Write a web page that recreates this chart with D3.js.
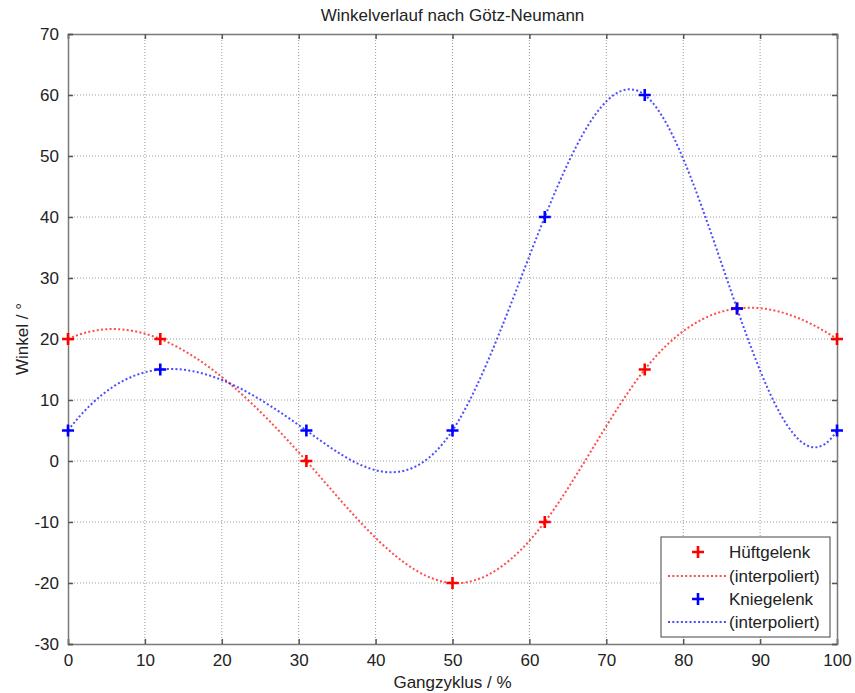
<!DOCTYPE html>
<html>
<head>
<meta charset="utf-8">
<script src="https://cdn.jsdelivr.net/npm/d3@7"></script>
<style>
  html, body { margin: 0; padding: 0; background: #fff; }
  svg text { font-family: "Liberation Sans", Arial, sans-serif; fill: #222; }
</style>
</head>
<body>
<svg id="chart" width="855" height="693"></svg>
<script>
// ---- data ----
const gaitPercent = [0, 12, 31, 50, 62, 75, 87, 100];
const hipAngle    = [20, 20, 0, -20, -10, 15, 25, 20];
const kneeAngle   = [5, 15, 5, 5, 40, 60, 25, 5];
const xTicks = [0, 10, 20, 30, 40, 50, 60, 70, 80, 90, 100];
const yTicks = [-30, -20, -10, 0, 10, 20, 30, 40, 50, 60, 70];
const seriesNames = ["Hüftgelenk", "(interpoliert)", "Kniegelenk", "(interpoliert)"];
const titleText = "Winkelverlauf nach Götz-Neumann";
const xLabel = "Gangzyklus / %";
const yLabel = "Winkel / °";

// ---- custom d3 curve: not-a-knot cubic spline y(x), emitted as Bezier segments ----
function NotAKnot(context) { this._context = context; }
NotAKnot.prototype = {
  areaStart() { this._line = 0; },
  areaEnd() { this._line = NaN; },
  lineStart() { this._x = []; this._y = []; },
  point(px, py) { this._x.push(+px); this._y.push(+py); },
  lineEnd() {
    const X = this._x, Y = this._y, n = X.length, c = this._context;
    if (!n) return;
    c.moveTo(X[0], Y[0]);
    if (n < 4) { for (let i = 1; i < n; i++) c.lineTo(X[i], Y[i]); return; }
    const h = [], d = [];
    for (let i = 0; i < n - 1; i++) { h.push(X[i + 1] - X[i]); d.push((Y[i + 1] - Y[i]) / h[i]); }
    const A = Array.from({length: n}, () => new Array(n).fill(0));
    const b = new Array(n).fill(0);
    A[0][0] = h[1]; A[0][1] = -(h[0] + h[1]); A[0][2] = h[0];
    for (let i = 1; i < n - 1; i++) {
      A[i][i - 1] = h[i - 1]; A[i][i] = 2 * (h[i - 1] + h[i]); A[i][i + 1] = h[i];
      b[i] = 6 * (d[i] - d[i - 1]);
    }
    A[n - 1][n - 3] = h[n - 2]; A[n - 1][n - 2] = -(h[n - 3] + h[n - 2]); A[n - 1][n - 1] = h[n - 3];
    for (let k = 0; k < n; k++) {
      let p = k;
      for (let r = k + 1; r < n; r++) if (Math.abs(A[r][k]) > Math.abs(A[p][k])) p = r;
      [A[k], A[p]] = [A[p], A[k]]; [b[k], b[p]] = [b[p], b[k]];
      for (let r = k + 1; r < n; r++) {
        const f = A[r][k] / A[k][k];
        for (let cc = k; cc < n; cc++) A[r][cc] -= f * A[k][cc];
        b[r] -= f * b[k];
      }
    }
    const M = new Array(n).fill(0);
    for (let k = n - 1; k >= 0; k--) {
      let s = b[k];
      for (let cc = k + 1; cc < n; cc++) s -= A[k][cc] * M[cc];
      M[k] = s / A[k][k];
    }
    const m = [];
    for (let i = 0; i < n - 1; i++) m.push(d[i] - h[i] * (2 * M[i] + M[i + 1]) / 6);
    m.push(d[n - 2] + h[n - 2] * (M[n - 2] + 2 * M[n - 1]) / 6);
    for (let i = 0; i < n - 1; i++) {
      const t = h[i] / 3;
      c.bezierCurveTo(X[i] + t, Y[i] + t * m[i], X[i + 1] - t, Y[i + 1] - t * m[i + 1], X[i + 1], Y[i + 1]);
    }
  }
};
const curveNotAKnot = ctx => new NotAKnot(ctx);

// ---- layout ----
const W = 855, H = 693;
const margin = {left: 68, top: 34, right: 18, bottom: 49};
const svg = d3.select("#chart");
const iw = W - margin.left - margin.right;
const ih = H - margin.top - margin.bottom;

const x = d3.scaleLinear().domain([0, 100]).range([margin.left, margin.left + iw]);
const y = d3.scaleLinear().domain([-30, 70]).range([margin.top + ih, margin.top]);

const axisColor = "#7a7a7a";
const gridColor = "#9a9a9a";

// grid
const grid = svg.append("g");
grid.selectAll(".gx").data(xTicks.slice(1, -1)).join("line")
  .attr("x1", d => x(d)).attr("x2", d => x(d))
  .attr("y1", y(-30)).attr("y2", y(70))
  .attr("stroke", gridColor).attr("stroke-width", 1).attr("stroke-dasharray", "1,2");
grid.selectAll(".gy").data(yTicks.slice(1, -1)).join("line")
  .attr("y1", d => y(d)).attr("y2", d => y(d))
  .attr("x1", x(0)).attr("x2", x(100))
  .attr("stroke", gridColor).attr("stroke-width", 1).attr("stroke-dasharray", "1,2");

// axes (ticks inward)
const tickLen = 5;
const fmt = d => String(d);
const xAxisB = d3.axisBottom(x).tickValues(xTicks).tickSize(-tickLen).tickPadding(tickLen + 5).tickFormat(fmt);
const xAxisT = d3.axisTop(x).tickValues(xTicks).tickSize(-tickLen).tickFormat("");
const yAxisL = d3.axisLeft(y).tickValues(yTicks).tickSize(-tickLen).tickPadding(tickLen + 4).tickFormat(fmt);
const yAxisR = d3.axisRight(y).tickValues(yTicks).tickSize(-tickLen).tickFormat("");

function styleAxis(g) {
  g.select(".domain").attr("stroke", axisColor).attr("stroke-width", 1.5);
  g.selectAll(".tick line").attr("stroke", "#555").attr("stroke-width", 1.5);
  g.selectAll(".tick text").style("font-size", "17px").style("font-family", "'Liberation Sans', Arial, sans-serif").attr("fill", "#222");
}
svg.append("g").attr("transform", `translate(0,${y(-30)})`).call(xAxisB).call(styleAxis);
svg.append("g").attr("transform", `translate(0,${y(70)})`).call(xAxisT).call(styleAxis);
svg.append("g").attr("transform", `translate(${x(0)},0)`).call(yAxisL).call(styleAxis);
svg.append("g").attr("transform", `translate(${x(100)},0)`).call(yAxisR).call(styleAxis);

// curves
const line = d3.line().x(d => x(d[0])).y(d => y(d[1])).curve(curveNotAKnot);
const series = [
  {vals: hipAngle, color: "#ff0000"},
  {vals: kneeAngle, color: "#0000ff"}
];
series.forEach(s => {
  const pts = gaitPercent.map((g, i) => [g, s.vals[i]]);
  svg.append("path").datum(pts).attr("d", line)
    .attr("fill", "none").attr("stroke", s.color).attr("stroke-opacity", 0.7)
    .attr("stroke-width", 2).attr("stroke-dasharray", "2,2.3");
});
// markers
function plus(g, cx, cy, color) {
  const r = 6;
  g.append("path").attr("d", `M${cx - r},${cy}H${cx + r}M${cx},${cy - r}V${cy + r}`)
    .attr("stroke", color).attr("stroke-width", 2.6).attr("fill", "none");
}
series.forEach(s => {
  const g = svg.append("g");
  gaitPercent.forEach((gp, i) => plus(g, x(gp), y(s.vals[i]), s.color));
});

// title & labels
svg.append("text").attr("x", x(50)).attr("y", 21).attr("text-anchor", "middle")
  .style("font-size", "17px").text(titleText);
svg.append("text").attr("x", x(50)).attr("y", 688).attr("text-anchor", "middle")
  .style("font-size", "17px").text(xLabel);
svg.append("text").attr("transform", `translate(28,${y(20)}) rotate(-90)`).attr("text-anchor", "middle")
  .style("font-size", "17px").text(yLabel);

// legend
const lg = svg.append("g");
lg.append("rect").attr("x", 661).attr("y", 537).attr("width", 169).attr("height", 100)
  .attr("fill", "#fff").attr("stroke", "#444").attr("stroke-width", 1);
const rowsY = [552, 576, 599, 622];
const legItems = [
  {type: "marker", color: "#ff0000"},
  {type: "line", color: "#ff0000"},
  {type: "marker", color: "#0000ff"},
  {type: "line", color: "#0000ff"}
];
legItems.forEach((it, i) => {
  const cy = rowsY[i];
  if (it.type === "marker") plus(lg, 698, cy, it.color);
  else lg.append("line").attr("x1", 668).attr("x2", 726).attr("y1", cy).attr("y2", cy)
    .attr("stroke", it.color).attr("stroke-opacity", 0.7).attr("stroke-width", 2).attr("stroke-dasharray", "2,2.3");
  lg.append("text").attr("x", 729).attr("y", cy + 6).style("font-size", "17px").text(seriesNames[i]);
});
</script>
</body>
</html>
